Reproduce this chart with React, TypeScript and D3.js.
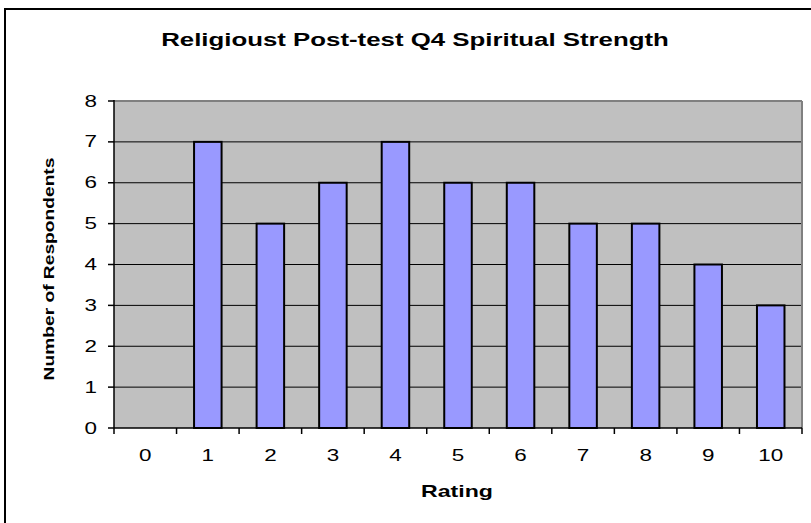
import React from "react";
import * as d3 from "d3";

const categories = ["0", "1", "2", "3", "4", "5", "6", "7", "8", "9", "10"];
const values = [0, 7, 5, 6, 7, 6, 6, 5, 5, 4, 3];
const yTicks = [0, 1, 2, 3, 4, 5, 6, 7, 8];
const title = "Religioust Post-test Q4 Spiritual Strength";
const xTitle = "Rating";
const yTitle = "Number of Respondents";

const font = "Liberation Sans, Arial, sans-serif";
const SX = 1.36;

function T({ x, y, anchor = "middle", size, bold = false, children }: any) {
  return (
    <text transform={`translate(${x},${y}) scale(${SX},1)`} textAnchor={anchor}
      fontFamily={font} fontSize={size} fontWeight={bold ? "bold" : "normal"} fill="#000">{children}</text>
  );
}

export default function App() {
  const W = 811, H = 523;
  const left = 114, right = 802, top = 101, bottom = 428;
  const x = d3.scaleBand<string>().domain(categories).range([left, right]);
  const y = d3.scaleLinear().domain([0, 8]).range([bottom, top]);
  const bw = x.bandwidth() * 0.44;
  return (
    <svg width={W} height={H} style={{ position: "absolute", left: 0, top: 0 }}>
      <rect x={0} y={0} width={W} height={H} fill="#fff" />
      <rect x={5} y={9} width={840} height={540} fill="#fff" stroke="#000" strokeWidth={2} />
      <T x={415} y={46} size={19} bold>{title}</T>
      <rect x={left} y={top} width={right - left} height={bottom - top} fill="#C0C0C0" />
      {yTicks.slice(1, -1).map(t => (
        <line key={t} x1={left} x2={right} y1={y(t)} y2={y(t)} stroke="#000" strokeWidth={1} />
      ))}
      <line x1={left} x2={right} y1={top} y2={top} stroke="#808080" strokeWidth={2} />
      <line x1={right} x2={right} y1={top} y2={bottom} stroke="#808080" strokeWidth={2} />
      {values.map((v, i) => v > 0 && (
        <rect key={i} x={(x(categories[i]) as number) + (x.bandwidth() - bw) / 2} y={y(v)} width={bw} height={y(0) - y(v)}
          fill="#9999FF" stroke="#000" strokeWidth={2} />
      ))}
      <line x1={left} x2={left} y1={top - 1} y2={bottom} stroke="#000" strokeWidth={1.5} />
      <line x1={left} x2={right} y1={bottom} y2={bottom} stroke="#000" strokeWidth={1.5} />
      {yTicks.map(t => (
        <g key={t}>
          <line x1={left - 6} x2={left} y1={y(t)} y2={y(t)} stroke="#000" strokeWidth={1.5} />
          <T x={97} y={y(t) + 5.5} anchor="end" size={16.5}>{t}</T>
        </g>
      ))}
      {categories.map((c, i) => (
        <line key={"t" + i} x1={(x(c) as number)} x2={(x(c) as number)} y1={bottom} y2={bottom + 6} stroke="#000" strokeWidth={1.5} />
      ))}
      <line x1={right} x2={right} y1={bottom} y2={bottom + 6} stroke="#000" strokeWidth={1.5} />
      {categories.map(c => (
        <T key={"l" + c} x={(x(c) as number) + x.bandwidth() / 2} y={461} size={16.5}>{c}</T>
      ))}
      <T x={457} y={497} size={17} bold>{xTitle}</T>
      <text transform={`translate(54,269) rotate(-90) scale(1.28,1)`} textAnchor="middle" fontFamily={font} fontWeight="bold" fontSize={15}>{yTitle}</text>
    </svg>
  );
}
